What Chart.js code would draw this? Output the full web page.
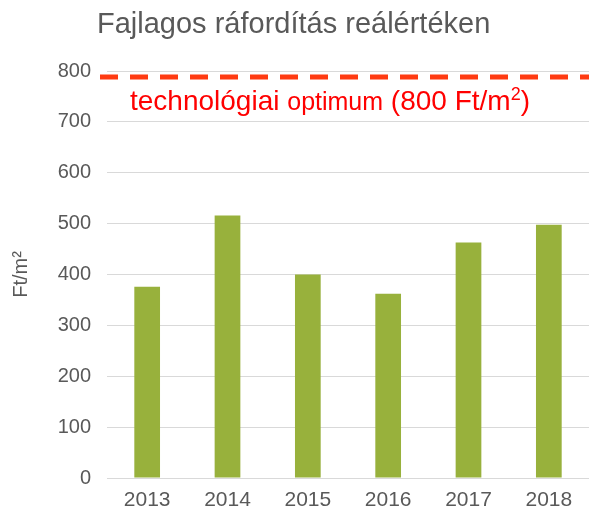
<!DOCTYPE html>
<html>
<head>
<meta charset="utf-8">
<script src="https://cdn.jsdelivr.net/npm/chart.js@4/dist/chart.umd.min.js"></script>
<style>
  html, body { margin: 0; padding: 0; background: #fff; }
  #wrap { width: 589px; height: 511px; }
</style>
</head>
<body>
<div id="wrap"><canvas id="chart" width="589" height="511"></canvas></div>
<script>
// Chart data
const years = ["2013", "2014", "2015", "2016", "2017", "2018"];
const costValues = [376, 516, 400, 362, 463, 498];
const optimumValue = 788;
const chartTitle = "Fajlagos ráfordítás reálértéken";
const yAxisTitle = "Ft/m²";
const optimumLabel = ["technológiai ", "optimum", " (800 Ft/m", "2", ")"];

const FONT = "'Liberation Sans', Arial, sans-serif";

// Title and the dashed optimum line with its label
const overlayPlugin = {
  id: "overlay",
  afterDatasetsDraw(chart) {
    const ctx = chart.ctx;
    const area = chart.chartArea;
    const y = chart.scales.y.getPixelForValue(optimumValue);

    ctx.save();
    // dashed line
    ctx.strokeStyle = "#FF3B12";
    ctx.lineWidth = 5;
    ctx.setLineDash([18, 12]);
    ctx.beginPath();
    ctx.moveTo(area.left - 7, y);
    ctx.lineTo(chart.width, y);
    ctx.stroke();
    ctx.setLineDash([]);

    // label with mixed font sizes
    const sizes = [28, 25, 28, 18, 28];
    const shifts = [0, 0, 0, -10, 0];
    let x = area.left + 23;
    const base = y + 33;
    ctx.fillStyle = "#FF0000";
    ctx.textBaseline = "alphabetic";
    ctx.textAlign = "left";
    optimumLabel.forEach((part, i) => {
      ctx.font = sizes[i] + "px " + FONT;
      ctx.fillText(part, x, base + shifts[i]);
      x += ctx.measureText(part).width;
    });

    // title
    ctx.font = "29px " + FONT;
    ctx.fillStyle = "#595959";
    ctx.fillText(chartTitle, 97, 33);
    ctx.restore();
  },
};

new Chart(document.getElementById("chart"), {
  type: "bar",
  data: {
    labels: years,
    datasets: [
      {
        label: "Fajlagos ráfordítás",
        data: costValues,
        backgroundColor: "#98B13C",
        barPercentage: 0.32,
        categoryPercentage: 1,
      },
    ],
  },
  options: {
    responsive: false,
    animation: false,
    layout: { padding: { top: 71, left: 0, right: 0, bottom: 0 } },
    plugins: {
      legend: { display: false },
      tooltip: { enabled: false },
    },
    scales: {
      x: {
        grid: { display: false, drawTicks: false },
        border: { display: true, color: "#D9D9D9", width: 1 },
        ticks: {
          color: "#595959",
          font: { family: FONT, size: 21 },
          padding: 10,
        },
        afterFit(scale) {
          scale.height = 33;
        },
      },
      y: {
        min: 0,
        max: 800,
        grid: { color: "#D9D9D9", lineWidth: 1, drawTicks: false },
        border: { display: false },
        ticks: {
          stepSize: 100,
          color: "#595959",
          font: { family: FONT, size: 20 },
          padding: 16,
        },
        title: {
          display: true,
          text: yAxisTitle,
          color: "#595959",
          font: { family: FONT, size: 20 },
          padding: { top: 9, bottom: 0 },
        },
        afterFit(scale) {
          scale.width = 107;
        },
      },
    },
  },
  plugins: [overlayPlugin],
});
</script>
</body>
</html>
